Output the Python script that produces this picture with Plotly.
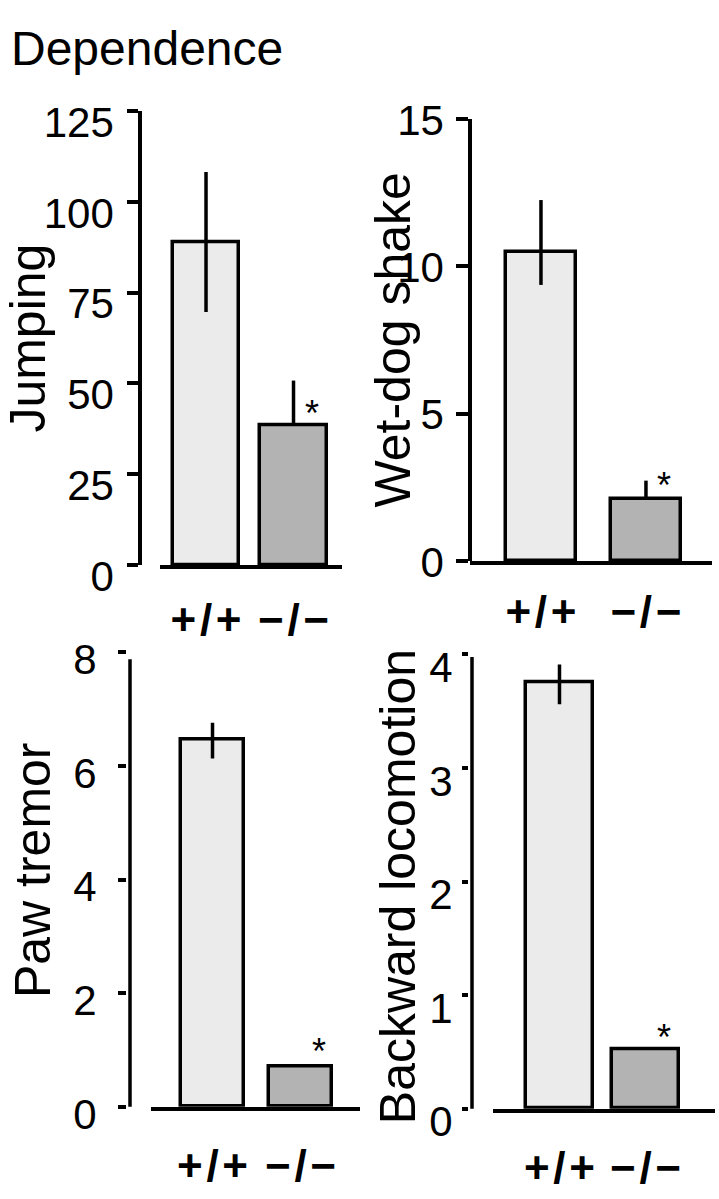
import plotly.graph_objects as go

# ---------------- data ----------------
HS = "\u200a"  # hair space between glyphs of the genotype labels
genotypes = ["+" + HS + "/" + HS + "+", "\u2212" + HS + "/" + HS + "\u2212"]

jumping = [89.0, 38.5]
jumping_err_up = [19.3, 12.3]
jumping_err_down = [19.3, 0.0]

wetdog = [10.5, 2.1]
wetdog_err_up = [1.75, 0.63]
wetdog_err_down = [1.13, 0.0]

paw = [6.46, 0.72]
paw_err_up = [0.30, 0.0]
paw_err_down = [0.33, 0.0]

backward = [3.75, 0.52]
backward_err_up = [0.16, 0.0]
backward_err_down = [0.19, 0.0]

y_titles = ["Jumping", "Wet-dog shake", "Paw tremor", "Backward locomotion"]
y_max = [125, 15, 8, 4]
y_ticks = [[0, 25, 50, 75, 100, 125], [0, 5, 10, 15], [0, 2, 4, 6, 8], [0, 1, 2, 3, 4]]
main_title = "Dependence"

# ---------------- layout helpers ----------------
W, H = 719, 1199
def px(x):
    return x / W
def py(y):
    return 1 - y / H

FONT = "Liberation Sans, Arial, Helvetica, sans-serif"
bar_colors = ["#ebebeb", "#b3b3b3"]
LW = 3.5

series = [
    (jumping, jumping_err_up, jumping_err_down),
    (wetdog, wetdog_err_up, wetdog_err_down),
    (paw, paw_err_up, paw_err_down),
    (backward, backward_err_up, backward_err_down),
]

panels = [
    dict(xd=(160, 342), xr=[-0.526, 1.554], yd=(571, 94), pos=140, tl=11, so=5, sh=11,
         bw=0.76, line=None, star=-33, tc=(28, 333), lab=14),
    dict(xd=(470, 712), xr=[-0.676, 1.629], yd=(567, 102), pos=470, tl=12, so=4, sh=1,
         bw=0.66, line=None, star=-5, tc=(393, 335), lab=9),
    dict(xd=(151, 360), xr=[-0.699, 1.676], yd=(1141, 663), pos=126, tl=8, so=13, sh=7,
         bw=0.72, line=(130, 0.985), star=14, tc=(33, 892), lab=18),
    dict(xd=(493, 715), xr=[-0.773, 1.808], yd=(1143, 665), pos=468, tl=6, so=1, sh=13,
         bw=0.78, line=(472, 0.994), star=12, tc=(398, 910), lab=18),
]

fig = go.Figure()
annotations = []
shapes = []

for i, (p, (vals, up, down)) in enumerate(zip(panels, series)):
    n = "" if i == 0 else str(i + 1)
    xa, ya = "x" + n, "y" + n
    fig.add_trace(go.Bar(
        x=genotypes, y=vals, xaxis=xa, yaxis=ya, width=p["bw"],
        marker=dict(color=bar_colors, line=dict(color="black", width=LW)),
        error_y=dict(type="data", symmetric=False, array=up, arrayminus=down,
                     color="black", thickness=LW, width=0),
        hoverinfo="skip",
    ))
    fig.layout["xaxis" + n] = dict(
        domain=[px(p["xd"][0]), px(p["xd"][1])], range=p["xr"], anchor=ya,
        showline=True, linecolor="black", linewidth=LW, ticks="", showgrid=False,
        zeroline=False, fixedrange=True, type="category",
        tickfont=dict(family=FONT, size=44, color="black", weight="bold"),
        ticklabelstandoff=p["lab"],
    )
    fig.layout["yaxis" + n] = dict(
        domain=[py(p["yd"][0]), py(p["yd"][1])], range=[0, y_max[i]],
        anchor="free", position=px(p["pos"]),
        showline=p["line"] is None, linecolor="black", linewidth=LW,
        ticks="outside", ticklen=p["tl"], tickwidth=LW, tickcolor="black",
        tickvals=y_ticks[i], showgrid=False, zeroline=False, fixedrange=True,
        tickfont=dict(family=FONT, size=42, color="black"),
        ticklabelstandoff=p["so"], ticklabelshift=p["sh"],
    )
    if p["line"] is not None:
        shapes.append(dict(type="line", xref="paper", yref=ya + " domain",
                           x0=px(p["line"][0]), x1=px(p["line"][0]), y0=0, y1=p["line"][1],
                           line=dict(color="black", width=LW)))
    # significance asterisk next to the -/- bar
    annotations.append(dict(
        text="*", xref=xa, yref=ya, x=genotypes[1], y=vals[1] + up[1],
        xshift=18, yshift=p["star"], showarrow=False,
        font=dict(family=FONT, size=36, color="black"),
        xanchor="center", yanchor="middle",
    ))
    annotations.append(dict(
        text=y_titles[i], xref="paper", yref="paper",
        x=px(p["tc"][0]), y=py(p["tc"][1]), textangle=-90, showarrow=False,
        xanchor="center", yanchor="middle",
        font=dict(family=FONT, size=50, color="black"),
    ))

annotations.append(dict(
    text=main_title, xref="paper", yref="paper", x=px(9), y=py(-2),
    xanchor="left", yanchor="top", showarrow=False,
    font=dict(family=FONT, size=48, color="black"),
))

fig.update_layout(
    width=W, height=H, margin=dict(l=0, r=0, t=0, b=0),
    paper_bgcolor="white", plot_bgcolor="white", showlegend=False,
    annotations=annotations, shapes=shapes, bargap=0,
)

fig.write_html("out.html", config={"displayModeBar": False},
               post_script="document.body.style.margin='0px';")
